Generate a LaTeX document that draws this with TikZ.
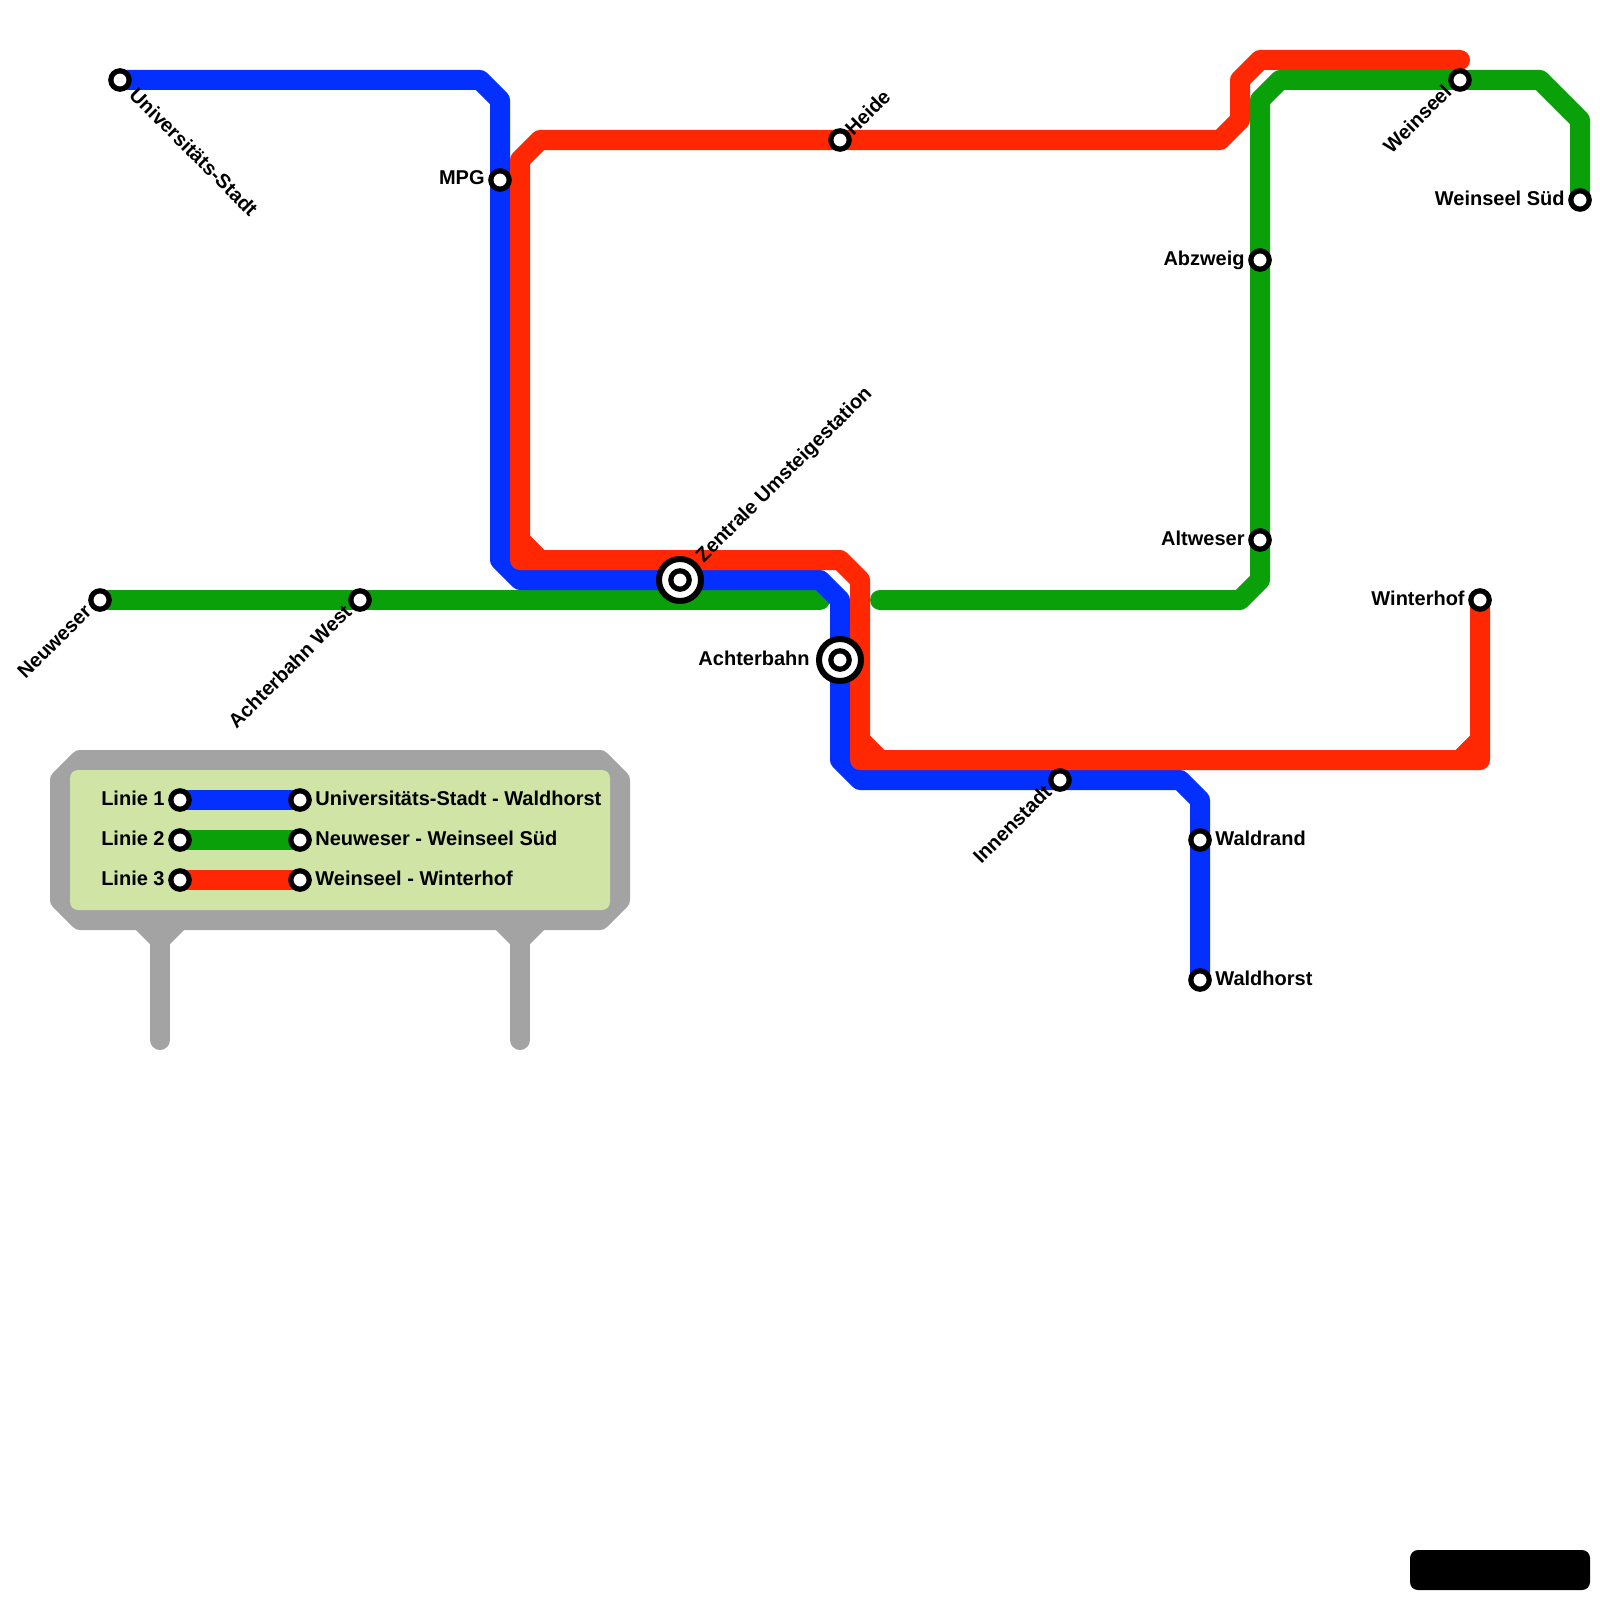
\documentclass[tikz,border=0pt]{standalone}
\usepackage{fontspec}
\setmainfont{Liberation Sans}
\tikzset{
 x=0.5pt,y=-0.5pt,
 linia/.style={line width=10pt,line join=round,line cap=round},
 sb/.style={circle,draw=black,fill=white,line width=2.6pt,minimum size=9.2pt,inner sep=0pt,outer sep=0pt},
 ic/.style={circle,draw=black,fill=white,line width=3pt,minimum size=21pt,inner sep=0pt,outer sep=0pt},
 lb/.style={font=\bfseries\fontsize{10pt}{11pt}\selectfont,inner sep=0pt},
}
\definecolor{cb}{RGB}{3,48,255}
\definecolor{cg}{RGB}{10,160,10}
\definecolor{cr}{RGB}{255,40,3}
\definecolor{cgy}{RGB}{163,163,163}
\definecolor{cbg}{RGB}{207,228,165}
\begin{document}
\begin{tikzpicture}
\useasboundingbox (0,0) rectangle (1600,1600);
\coordinate (p1) at (160,1040);\coordinate (p2) at (520,1040);
\draw[cgy,line width=10pt,line cap=round,line join=round,fill=cgy] (60,780)--(80,760)--(600,760)--(620,780)--(620,900)--(600,920)--(540,920)--(520,940)--(500,920)--(180,920)--(160,940)--(140,920)--(80,920)--(60,900)--cycle;
\draw[cgy,line width=10pt,line cap=round] (160,930)--(p1);
\draw[cgy,line width=10pt,line cap=round] (520,930)--(p2);
\fill[cbg,rounded corners=4pt] (70,770) rectangle (610,910);
\fill[black,rounded corners=4pt] (1410,1550) rectangle (1590,1590);
% coordinates of stations
\coordinate (neu) at (100,600);
\coordinate (acw) at (360,600);
\coordinate (abz) at (1260,260);
\coordinate (alt) at (1260,540);
\coordinate (wei) at (1460,80);
\coordinate (wes) at (1580,200);
\coordinate (uni) at (120,80);
\coordinate (mpg) at (500,180);
\coordinate (zen) at (680,580);
\coordinate (ach) at (840,660);
\coordinate (inn) at (1060,780);
\coordinate (wrd) at (1200,840);
\coordinate (wht) at (1200,980);
\coordinate (hei) at (840,140);
\coordinate (win) at (1480,600);
\coordinate (l1a) at (180,800);\coordinate (l1b) at (300,800);
\coordinate (l2a) at (180,840);\coordinate (l2b) at (300,840);
\coordinate (l3a) at (180,880);\coordinate (l3b) at (300,880);
% green
\draw[linia,cg] (neu)--(acw)--(820,600);
\draw[linia,cg] (880,600)--(1240,600)--(1260,580)--(alt)--(abz)--(1260,100)--(1280,80)--(wei)--(1540,80)--(1580,120)--(wes);
% blue
\draw[linia,cb] (uni)--(480,80)--(500,100)--(mpg)--(500,560)--(520,580)--(zen)--(820,580)--(840,600)--(ach)--(840,760)--(860,780)--(inn)--(1180,780)--(1200,800)--(wrd)--(wht);
% red
\draw[linia,cr] (1460,60)--(1260,60)--(1240,80)--(1240,120)--(1220,140)--(hei)--(540,140)--(520,160)--(520,540)--(540,560)--(840,560)--(860,580)--(860,740)--(880,760)--(1460,760)--(1480,740)--(win);
\draw[linia,cr,fill=cr] (520,540)--(520,560)--(540,560)--cycle;
\draw[linia,cr,fill=cr] (860,740)--(860,760)--(880,760)--cycle;
\draw[linia,cr,fill=cr] (1460,760)--(1480,760)--(1480,740)--cycle;
% legend
\draw[linia,cb] (l1a)--(l1b);
\draw[linia,cg] (l2a)--(l2b);
\draw[linia,cr] (l3a)--(l3b);
% stations
\foreach \n in {neu,acw,abz,alt,wei,wes,uni,mpg,inn,wrd,wht,hei,win,l1a,l1b,l2a,l2b,l3a,l3b}
  \node[sb] (s\n) at (\n) {};
\foreach \n in {zen,ach}{
  \node[ic] (o\n) at (\n) {};
  \node[sb] (s\n) at (\n) {};
}
% labels
\node[lb,anchor=base east] at (485,184.5) {MPG};
\node[lb,anchor=west,rotate=-45] at (133,91) {Universitäts-Stadt};
\node[lb,anchor=west,rotate=45] at (848,132) {Heide};
\node[lb,anchor=west,rotate=45] at (700,560) {Zentrale Umsteigestation};
\node[lb,anchor=east,rotate=45] at (88,608) {Neuweser};
\node[lb,anchor=east,rotate=45] at (348,608) {Achterbahn West};
\node[lb,anchor=base east] at (810,665) {Achterbahn};
\node[lb,anchor=east,rotate=45] at (1048,788) {Innenstadt};
\node[lb,anchor=base west] at (1215,845) {Waldrand};
\node[lb,anchor=base west] at (1215,985) {Waldhorst};
\node[lb,anchor=base east] at (1245,265) {Abzweig};
\node[lb,anchor=base east] at (1245,545) {Altweser};
\node[lb,anchor=east,rotate=45] at (1448,88) {Weinseel};
\node[lb,anchor=base east] at (1565,205) {Weinseel Süd};
\node[lb,anchor=base east] at (1465,605) {Winterhof};
\node[lb,anchor=base east] at (165,805) {Linie 1};
\node[lb,anchor=base east] at (165,845) {Linie 2};
\node[lb,anchor=base east] at (165,885) {Linie 3};
\node[lb,anchor=base west] at (315,805) {Universitäts-Stadt - Waldhorst};
\node[lb,anchor=base west] at (315,845) {Neuweser - Weinseel Süd};
\node[lb,anchor=base west] at (315,885) {Weinseel - Winterhof};
\end{tikzpicture}
\end{document}
